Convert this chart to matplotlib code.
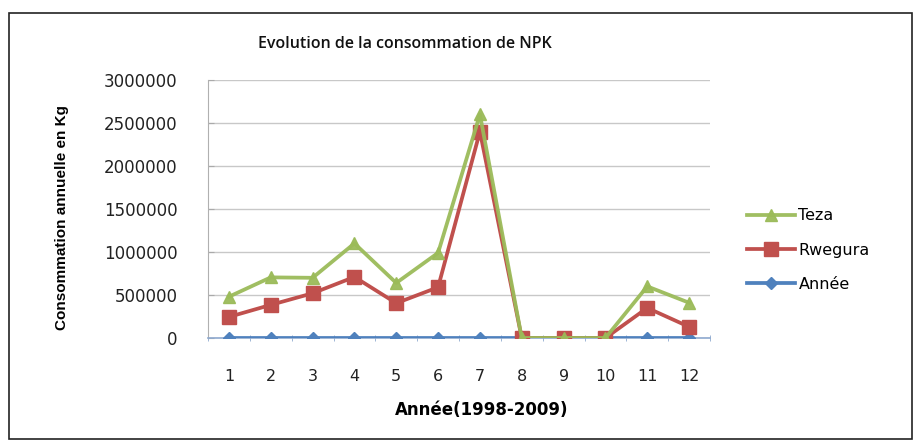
import matplotlib
matplotlib.use("Agg")
import matplotlib.pyplot as plt
from matplotlib.patches import Rectangle
from matplotlib.ticker import FixedLocator

categories = [1, 2, 3, 4, 5, 6, 7, 8, 9, 10, 11, 12]
teza = [480000, 705000, 700000, 1100000, 640000, 990000, 2600000, 0, 0, 0, 600000, 410000]
rwegura = [245000, 385000, 520000, 710000, 405000, 590000, 2400000, 0, 0, 0, 350000, 130000]
annee = [1998, 1999, 2000, 2001, 2002, 2003, 2004, 2005, 2006, 2007, 2008, 2009]
yticks = [0, 500000, 1000000, 1500000, 2000000, 2500000, 3000000]

W, H = 917, 444
fig = plt.figure(figsize=(W / 100, H / 100), dpi=100)
fig.patch.set_facecolor("white")

# outer frame
fig.patches.append(Rectangle((9 / W, 5 / H), 903 / W, 426 / H, transform=fig.transFigure,
                             fill=False, edgecolor="#222222", linewidth=1.2))

ax = fig.add_axes([208 / W, 1 - 338 / H, 502 / W, 258 / H])

ax.plot(categories, annee, color="#4F81BD", lw=2.7, marker="D", markersize=6.5,
        markerfacecolor="#4F81BD", markeredgecolor="#4F81BD", label="Année", zorder=3)
ax.plot(categories, rwegura, color="#C0504D", lw=2.7, marker="s", markersize=10,
        markerfacecolor="#C0504D", markeredgecolor="#C0504D", label="Rwegura", zorder=4)
ax.plot(categories, teza, color="#9BBB59", lw=2.7, marker="^", markersize=9,
        markerfacecolor="#9BBB59", markeredgecolor="#9BBB59", label="Teza", zorder=5, alpha=0.95)

ax.set_xlim(0.5, 12.5)
ax.set_ylim(0, 3000000)
ax.set_yticks(yticks)
ax.set_yticklabels([str(v) for v in yticks], fontsize=12, color="#222222", family="DejaVu Sans")
ax.set_xticks(categories)
ax.set_xticklabels([str(c) for c in categories], fontsize=11.5, color="#222222", family="DejaVu Sans")
ax.xaxis.set_minor_locator(FixedLocator([c + 0.5 for c in [0] + categories]))
ax.tick_params(axis="x", which="major", length=0, pad=22)
ax.tick_params(axis="x", which="minor", length=4, color="#8EA9CF", direction="inout")
ax.tick_params(axis="y", length=4, color="#aaaaaa", pad=22, direction="in")

ax.grid(axis="y", color="#c8c8c8", lw=1)
ax.set_axisbelow(True)
for s in ["top", "right"]:
    ax.spines[s].set_visible(False)
ax.spines["left"].set_color("#b0b0b0")
ax.spines["bottom"].set_color("#8EA9CF")
ax.spines["bottom"].set_linewidth(1.2)

fig.text(405 / W, 1 - 44 / H, "Evolution de la consommation de NPK", fontsize=11.5,
         family="Open Sans", fontweight="semibold", color="#111111", ha="center", va="center")
fig.text(482 / W, 1 - 410 / H, "Année(1998-2009)", fontsize=12, fontweight="bold",
         family="DejaVu Sans", ha="center", va="center")
fig.text(62 / W, 1 - 218 / H, "Consommation annuelle en Kg", rotation=90, fontsize=11,
         fontweight="bold", family="Liberation Sans", ha="center", va="center")

handles, labels = ax.get_legend_handles_labels()
order = [2, 1, 0]
leg = fig.legend([handles[i] for i in order], [labels[i] for i in order],
                 loc="center left", bbox_to_anchor=(733 / W, 1 - 250 / H), frameon=False,
                 prop={"family": "DejaVu Sans", "size": 11.5}, handlelength=3,
                 labelspacing=1.2, handletextpad=0.2)

fig.savefig("out.png", dpi=100)
